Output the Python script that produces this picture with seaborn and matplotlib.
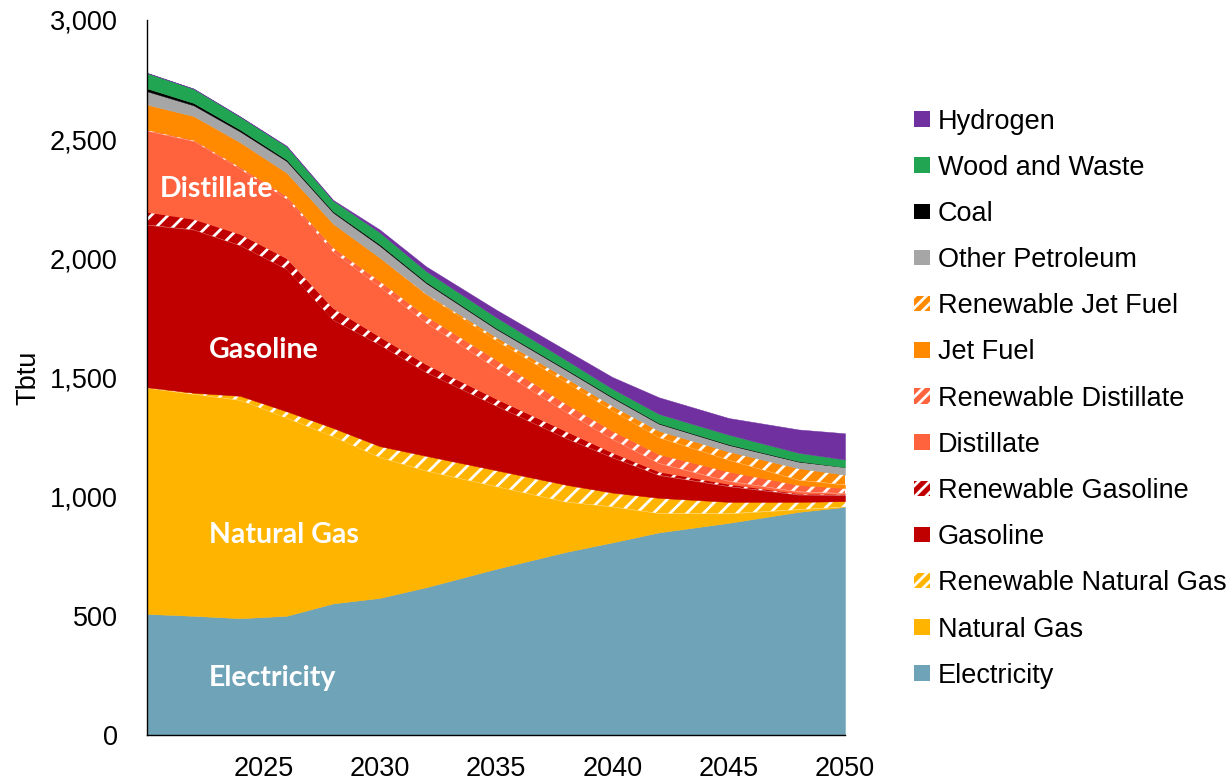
import matplotlib
matplotlib.use("Agg")
import matplotlib.pyplot as plt
from matplotlib.patches import Patch
from matplotlib.ticker import FuncFormatter
import seaborn as sns
import pandas as pd

# Data (Tbtu)
years = [2020, 2022, 2024, 2026, 2028, 2030, 2032, 2035, 2038, 2040, 2042, 2045, 2048, 2050]

electricity = [508, 500, 490, 500, 552, 575, 620, 697, 768, 808, 850, 890, 936, 957]
natural_gas = [948, 930, 915, 830, 700, 590, 488, 346, 210, 150, 80, 39, 10, 0]
renewable_natural_gas = [3, 6, 18, 28, 36, 47, 63, 68, 72, 59, 65, 49, 32, 24]
gasoline = [681, 684, 631, 596, 453, 425, 350, 270, 195, 147, 95, 65, 30, 25]
renewable_gasoline = [55, 45, 48, 46, 50, 34, 34, 30, 30, 21, 15, 10, 5, 4]
distillate = [340, 327, 273, 249, 236, 209, 173, 128, 80, 56, 35, 12, 8, 4]
renewable_distillate = [5, 5, 8, 12, 18, 25, 30, 36, 35, 35, 38, 40, 28, 22]
jet_fuel = [105, 100, 104, 98, 100, 98, 90, 80, 90, 84, 70, 49, 21, 14]
renewable_jet_fuel = [0, 0, 0, 0, 0, 0, 3, 15, 18, 21, 28, 35, 49, 42]
other_petroleum = [56, 45, 45, 49, 47, 50, 45, 34, 34, 34, 30, 28, 28, 32]
coal = [12, 10, 8, 6, 5, 6, 5, 4, 4, 4, 3, 3, 2, 0]
wood_and_waste = [65, 60, 55, 56, 45, 50, 45, 45, 38, 34, 38, 40, 35, 32]
hydrogen = [0, 0, 0, 2, 3, 12, 20, 32, 41, 49, 70, 70, 98, 110]

series_names = ["Electricity", "Natural Gas", "Renewable Natural Gas", "Gasoline",
                "Renewable Gasoline", "Distillate", "Renewable Distillate", "Jet Fuel",
                "Renewable Jet Fuel", "Other Petroleum", "Coal", "Wood and Waste", "Hydrogen"]
series_values = [electricity, natural_gas, renewable_natural_gas, gasoline,
                 renewable_gasoline, distillate, renewable_distillate, jet_fuel,
                 renewable_jet_fuel, other_petroleum, coal, wood_and_waste, hydrogen]

colors = {
    "Electricity": "#6FA3B8",
    "Natural Gas": "#FFB400",
    "Renewable Natural Gas": "#FFB400",
    "Gasoline": "#C00000",
    "Renewable Gasoline": "#C00000",
    "Distillate": "#FF633E",
    "Renewable Distillate": "#FF633E",
    "Jet Fuel": "#FF8A00",
    "Renewable Jet Fuel": "#FF8A00",
    "Other Petroleum": "#A6A6A6",
    "Coal": "#000000",
    "Wood and Waste": "#22A552",
    "Hydrogen": "#7030A0",
}

df = pd.DataFrame(dict(zip(series_names, series_values)), index=years)

sns.set_style("white")
plt.rcParams["font.family"] = ["Liberation Sans", "DejaVu Sans"]
plt.rcParams["hatch.linewidth"] = 2.0
for key in ["text.color", "axes.labelcolor", "xtick.color", "ytick.color"]:
    plt.rcParams[key] = "black"

fig = plt.figure(figsize=(12.32, 7.81), dpi=100)
ax = fig.add_axes([0.1193, 0.0589, 0.5666, 0.9155])

# Stacked areas
base = pd.Series(0.0, index=df.index)
for name in series_names:
    top = base + df[name]
    hatched = name.startswith("Renewable")
    ax.fill_between(df.index, base, top, facecolor=colors[name],
                    edgecolor="white" if hatched else colors[name],
                    hatch="//" if hatched else None,
                    linewidth=0 if hatched else 0.3)
    base = top

ax.set_xlim(2020, 2050)
ax.set_ylim(0, 3000)
ax.set_yticks(range(0, 3001, 500))
ax.yaxis.set_major_formatter(FuncFormatter(lambda v, p: f"{int(v):,}"))
ax.set_xticks(range(2020, 2051, 5))
ax.set_xticklabels([""] + [str(y) for y in range(2025, 2051, 5)])
ax.tick_params(axis="x", direction="out", length=10, width=1, color="black",
               labelsize=19.5, pad=5)
ax.tick_params(axis="y", length=0, labelsize=19.5, pad=21)
ax.set_ylabel("Tbtu", fontsize=19.5, labelpad=6)

sns.despine(ax=ax)
for s in ["left", "bottom"]:
    ax.spines[s].set_color("black")
    ax.spines[s].set_linewidth(1)

# In-area labels
label_font = ["Lato", "DejaVu Sans"]
for txt, x, y in [("Distillate", 2020.56, 2290), ("Gasoline", 2022.66, 1615),
                  ("Natural Gas", 2022.66, 840), ("Electricity", 2022.66, 240)]:
    ax.text(x, y, txt, color="white", fontsize=20.5, fontweight="bold",
            family=label_font, ha="left", va="center")

# Legend (top entry = top of stack)
handles = []
for name in reversed(series_names):
    hatched = name.startswith("Renewable")
    handles.append(Patch(facecolor=colors[name],
                         edgecolor="white" if hatched else colors[name],
                         hatch="///" if hatched else None,
                         linewidth=0, label=name))
fig.legend(handles=handles, loc="upper left", bbox_to_anchor=(0.742, 0.861),
           frameon=False, fontsize=19.5, handlelength=0.6, handleheight=0.5,
           handletextpad=0.28, labelspacing=0.745, borderaxespad=0,
           borderpad=0)

fig.savefig("out.png", dpi=100)
